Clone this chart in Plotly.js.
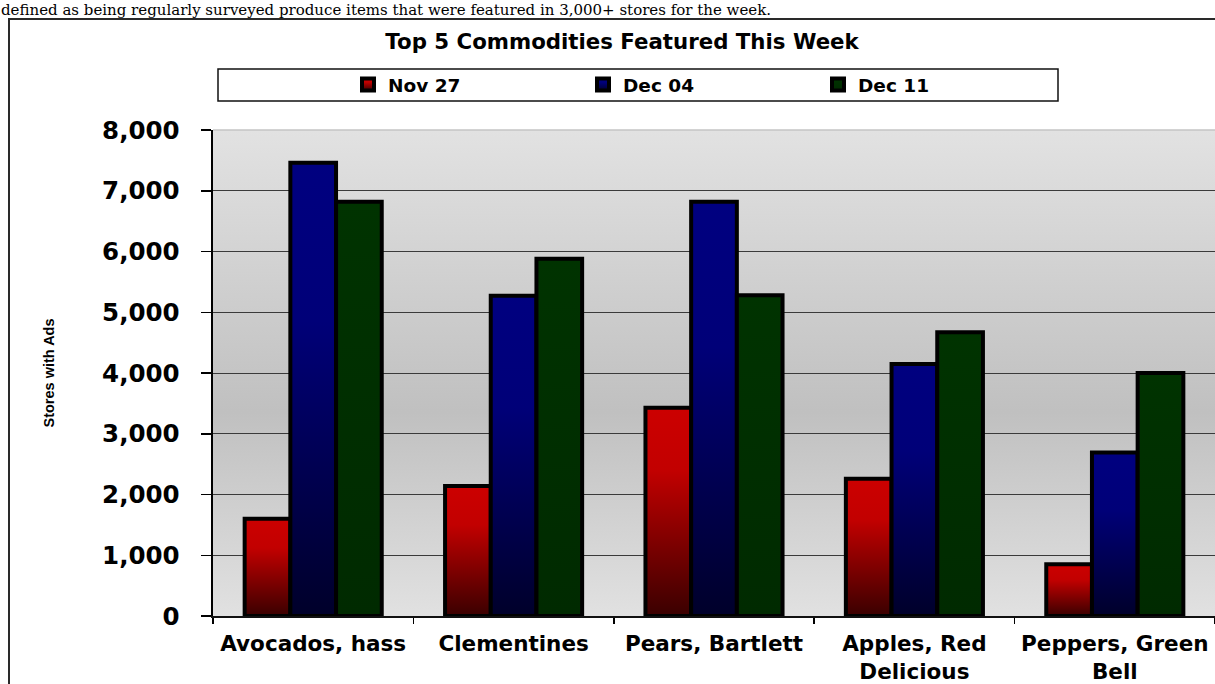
<!DOCTYPE html>
<html>
<head>
<meta charset="utf-8">
<script src="https://cdn.plot.ly/plotly-3.0.1.min.js"></script>
<style>
  html, body { margin: 0; padding: 0; background: #ffffff; }
  #chart { width: 1215px; height: 684px; }
</style>
</head>
<body>
<div id="chart"></div>
<script>
// ---- Data ----
const categories = ['Avocados, hass', 'Clementines', 'Pears, Bartlett', 'Apples, Red Delicious', 'Peppers, Green Bell'];
const tickLabels = ['Avocados, hass', 'Clementines', 'Pears, Bartlett', 'Apples, Red<br>Delicious', 'Peppers, Green<br>Bell'];
const seriesNames = ['Nov 27', 'Dec 04', 'Dec 11'];
const nov27 = [1600, 2140, 3430, 2260, 850];
const dec04 = [7460, 5270, 6820, 4150, 2690];
const dec11 = [6820, 5880, 5280, 4670, 4000];
const yTickVals = [0, 1000, 2000, 3000, 4000, 5000, 6000, 7000, 8000];

const titleText = 'Top 5 Commodities Featured This Week';
const yTitleText = 'Stores with Ads';
const topNote = 'defined as being regularly surveyed produce items that were featured in 3,000+ stores for the week.';

// ---- Geometry helpers (pixel -> paper) ----
const W = 1215, H = 684;
const M = { l: 213, r: 0, t: 130, b: 68 };
const PW = W - M.l - M.r, PH = H - M.t - M.b;
const xp = px => (px - M.l) / PW;
const yp = py => (H - M.b - py) / PH;

const BOLD = 'DejaVu Sans, Liberation Sans, Arial, sans-serif';
const flatColors = ['#a00000', '#000060', '#002e00'];

const seriesValues = [nov27, dec04, dec11];
const data = seriesValues.map((vals, i) => ({
  type: 'bar',
  name: seriesNames[i],
  x: categories,
  y: vals,
  marker: { color: flatColors[i], line: { color: '#000000', width: 4 } },
  hoverinfo: 'skip'
}));

const bgSvg = "<svg xmlns='http://www.w3.org/2000/svg' width='10' height='100' preserveAspectRatio='none'>" +
  "<defs><linearGradient id='g' x1='0' y1='0' x2='0' y2='1'>" +
  "<stop offset='0' stop-color='#e2e2e2'/><stop offset='0.58' stop-color='#c0c0c0'/><stop offset='1' stop-color='#e1e1e1'/>" +
  "</linearGradient></defs><rect width='10' height='100' fill='url(#g)'/></svg>";

const layout = {
  width: W, height: H,
  margin: M,
  paper_bgcolor: '#ffffff',
  plot_bgcolor: '#d0d0d0',
  showlegend: true,
  bargap: 0.316,
  bargroupgap: 0,
  title: {
    text: '<b>' + titleText + '</b>',
    font: { family: BOLD, size: 21.3, color: '#000000' },
    xref: 'container', x: 622 / W, xanchor: 'center',
    yref: 'container', y: 1 - 42 / H, yanchor: 'middle'
  },
  legend: {
    orientation: 'h',
    xref: 'paper', yref: 'paper',
    x: xp(348), xanchor: 'left',
    y: yp(85), yanchor: 'middle',
    bgcolor: 'rgba(0,0,0,0)', borderwidth: 0,
    font: { family: BOLD, size: 18.5, color: '#000000', weight: 'bold' },
    entrywidth: 190, entrywidthmode: 'pixels',
    itemwidth: 30,
    traceorder: 'normal'
  },
  xaxis: {
    type: 'category',
    tickmode: 'array', tickvals: categories, ticktext: tickLabels,
    tickson: 'boundaries',
    ticks: 'outside', ticklen: 6, tickwidth: 1.5, tickcolor: '#000000',
    showline: true, linecolor: '#111111', linewidth: 1.5,
    showgrid: false,
    tickfont: { family: BOLD, size: 21.5, color: '#000000', weight: 'bold' },
    ticklabelstandoff: 8,
    fixedrange: true
  },
  yaxis: {
    range: [0, 8000],
    tickmode: 'array', tickvals: yTickVals,
    tickformat: ',d',
    ticks: 'outside', ticklen: 10, tickwidth: 1.5, tickcolor: '#000000',
    showline: true, linecolor: '#000000', linewidth: 2.5,
    showgrid: true, gridcolor: '#3a3a3a', gridwidth: 1,
    zeroline: false,
    tickfont: { family: BOLD, size: 24.5, color: '#000000', weight: 'bold' },
    ticklabelstandoff: 16,
    title: {
      text: yTitleText,
      font: { family: 'Liberation Sans Narrow, Arial Narrow, Liberation Sans, Arial, sans-serif', size: 14.5, color: '#000000', weight: 'bold' },
      standoff: 44
    },
    fixedrange: true
  },
  images: [{
    source: 'data:image/svg+xml;charset=utf-8,' + encodeURIComponent(bgSvg),
    xref: 'paper', yref: 'paper',
    x: 0, y: 1, sizex: 1, sizey: 1,
    xanchor: 'left', yanchor: 'top',
    sizing: 'stretch', layer: 'below'
  }],
  shapes: [
    // outer chart frame
    { type: 'rect', xref: 'paper', yref: 'paper', x0: xp(9), x1: xp(1240), y0: yp(19), y1: yp(720),
      line: { color: '#2a2a2a', width: 2 }, fillcolor: 'rgba(0,0,0,0)', layer: 'below' },
    // legend box
    { type: 'rect', xref: 'paper', yref: 'paper', x0: xp(218), x1: xp(1058), y0: yp(69), y1: yp(101),
      line: { color: '#111111', width: 1.5 }, fillcolor: '#ffffff', layer: 'below' },
    // top edge of plot area
    { type: 'line', xref: 'paper', yref: 'paper', x0: 0, x1: 1, y0: 1, y1: 1,
      line: { color: '#c4c4c4', width: 1.5 }, layer: 'above' }
  ],
  annotations: [{
    text: topNote,
    xref: 'paper', yref: 'paper',
    x: xp(0), xanchor: 'left',
    y: yp(0), yanchor: 'top',
    borderpad: 0,
    showarrow: false,
    font: { family: 'DejaVu Serif, Liberation Serif, Times New Roman, serif', size: 15, color: '#000000' }
  }],
  hovermode: false
};

const gradients = [
  { id: 'gradNov27', stops: [[0, '#cc0000'], [0.3, '#c20000'], [1, '#3a0000']] },
  { id: 'gradDec04', stops: [[0, '#000080'], [0.35, '#000078'], [1, '#00002a']] },
  { id: 'gradDec11', stops: [[0, '#003300'], [1, '#002a00']] }
];

function applyGradients(gd) {
  const ns = 'http://www.w3.org/2000/svg';
  const svg = gd.querySelector('svg.main-svg');
  let defs = svg.querySelector('defs');
  if (!defs) { defs = document.createElementNS(ns, 'defs'); svg.insertBefore(defs, svg.firstChild); }
  gradients.forEach(g => {
    const lg = document.createElementNS(ns, 'linearGradient');
    lg.setAttribute('id', g.id);
    lg.setAttribute('x1', '0'); lg.setAttribute('y1', '0');
    lg.setAttribute('x2', '0'); lg.setAttribute('y2', '1');
    g.stops.forEach(s => {
      const st = document.createElementNS(ns, 'stop');
      st.setAttribute('offset', s[0]);
      st.setAttribute('stop-color', s[1]);
      lg.appendChild(st);
    });
    defs.appendChild(lg);
  });
  gd.querySelectorAll('.barlayer .trace').forEach((t, i) => {
    t.querySelectorAll('path').forEach(p => { p.style.fill = 'url(#' + gradients[i].id + ')'; });
  });
  gd.querySelectorAll('.legend .traces').forEach((t, i) => {
    t.querySelectorAll('.legendpoints path').forEach(p => { p.style.fill = 'url(#' + gradients[i].id + ')'; });
  });
}

const gd = document.getElementById('chart');
Plotly.newPlot(gd, data, layout, { staticPlot: true, displayModeBar: false }).then(applyGradients);
</script>
</body>
</html>
